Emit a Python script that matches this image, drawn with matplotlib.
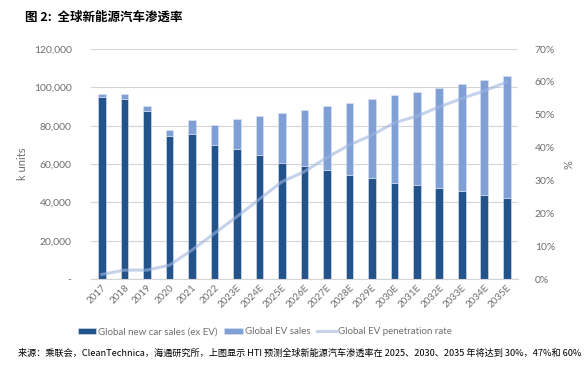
import matplotlib
matplotlib.use('Agg')
import matplotlib.pyplot as plt
import numpy as np
from matplotlib.ticker import FuncFormatter

plt.rcParams['font.family'] = ['Lato', 'Noto Sans CJK SC', 'DejaVu Sans']

years = ['2017', '2018', '2019', '2020', '2021', '2022', '2023E', '2024E', '2025E',
         '2026E', '2027E', '2028E', '2029E', '2030E', '2031E', '2032E', '2033E',
         '2034E', '2035E']
ex_ev = [95100, 94100, 87800, 74600, 75650, 69750, 68000, 64500, 60700, 59000,
         56700, 54260, 52870, 50260, 49040, 47650, 45900, 44000, 42260]
total = [96500, 96500, 90260, 77700, 82800, 80200, 83500, 85000, 86800, 88350,
         90260, 92000, 93900, 96000, 97570, 99650, 101740, 103650, 105900]
ev = [t - e for t, e in zip(total, ex_ev)]
pen_rate = [1.4, 2.7, 2.7, 4.2, 8.8, 13.9, 19.0, 24.3, 29.6, 32.7, 37.0, 40.8,
            43.8, 47.6, 49.6, 52.4, 55.0, 57.3, 60.0]

dark = '#23538B'
light = '#809FD5'
grey = '#6E6E6E'

fig = plt.figure(figsize=(5.88, 3.66), dpi=100)
ax = fig.add_axes([0.155, 0.2377, 0.726, 0.628])
ax2 = ax.twinx()

x = np.arange(len(years))
w = 0.34
ax.bar(x, ex_ev, w, color=dark, edgecolor='#DCE4F2', linewidth=0.4, zorder=2,
       label='Global new car sales (ex EV)')
ax.bar(x, ev, w, bottom=ex_ev, color=light, edgecolor='#DCE4F2', linewidth=0.4,
       zorder=2, label='Global EV sales')
ax2.plot(x, pen_rate, color='#9DB5E0', lw=2.2, alpha=0.6, zorder=3,
         label='Global EV penetration rate')

ax.set_xlim(-0.48, 18.5)
ax.set_ylim(0, 120000)
ax.set_yticks(np.arange(0, 120001, 20000))
ax.yaxis.set_major_formatter(FuncFormatter(lambda v, p: '-' if v == 0 else f'{int(v):,}'))
ax2.set_ylim(0, 70)
ax2.set_yticks(np.arange(0, 71, 10))
ax2.yaxis.set_major_formatter(FuncFormatter(lambda v, p: f'{int(v)}%'))

ax.grid(axis='y', color='#D4D4D4', lw=0.8, zorder=0)
ax.set_axisbelow(True)
for a in (ax, ax2):
    for s in a.spines.values():
        s.set_visible(False)
    a.tick_params(length=0, colors=grey, labelsize=7.5)
ax.spines['bottom'].set_visible(True)
ax.spines['bottom'].set_color('#D4D4D4')

ax.set_xticks(x)
ax.set_xticklabels(years, rotation=45, ha='right', rotation_mode='anchor', fontsize=7)
ax.tick_params(axis='x', pad=3)
ax.tick_params(axis='y', pad=14)
ax2.tick_params(axis='y', pad=12)
ax.set_ylabel('k units', color=grey, fontsize=8, labelpad=4)
ax2.set_ylabel('%', color=grey, fontsize=8, labelpad=6)

h1, l1 = ax.get_legend_handles_labels()
h2, l2 = ax2.get_legend_handles_labels()
fig.legend(h1 + h2, l1 + l2, loc='center', bbox_to_anchor=(0.45, 0.093), ncol=3,
           frameon=False, fontsize=7, labelcolor=grey, handlelength=1.9,
           handleheight=0.7, columnspacing=0.7, handletextpad=0.2)

fig.text(0.042, 0.972, '图 2:  全球新能源汽车渗透率', fontsize=9, fontweight='bold',
         va='top', family=['Noto Sans CJK SC', 'DejaVu Sans'])
fig.text(0.03, 0.035,
         '来源：乘联会，CleanTechnica，海通研究所，上图显示 HTI 预测全球新能源汽车渗透率在 2025、2030、2035 年将达到 30%，47%和 60%',
         fontsize=6.6, va='center', family=['Noto Sans CJK SC', 'DejaVu Sans'])

fig.savefig('out.png', dpi=100)
